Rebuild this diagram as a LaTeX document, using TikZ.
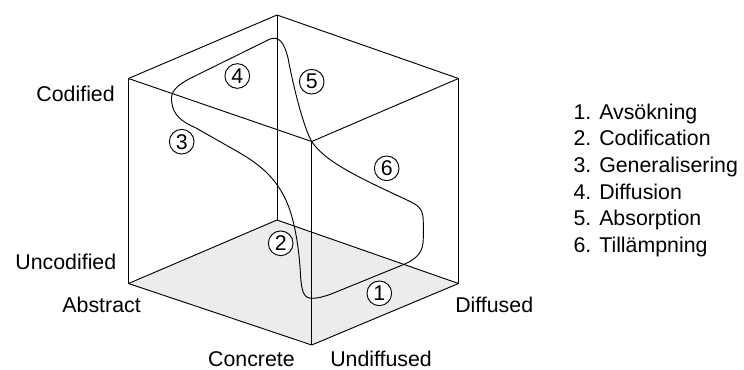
\documentclass[tikz,border=0pt]{standalone}
\usepackage{fontspec}
\setmainfont{Liberation Sans}
\usepackage{xcolor}
\usepackage{tikz}

\tikzset{
  edge/.style={line width=0.7pt},
  stage/.style={draw,circle,line width=0.7pt,fill=white,inner sep=0pt,minimum size=18.5pt},
  axislabel/.style={inner sep=0pt},
}

\begin{document}
\begin{tikzpicture}[x=0.75pt,y=-0.75pt,font=\fontsize{16}{19}\selectfont]
  \useasboundingbox (0,0) rectangle (744,369);
  % Cube corners
  \coordinate (tb) at (277,15);
  \coordinate (tl) at (128.5,78.5);
  \coordinate (tr) at (458.5,78.5);
  \coordinate (tf) at (311.7,141.5);
  \coordinate (bb) at (277,220);
  \coordinate (bl) at (128.5,283.5);
  \coordinate (br) at (458.5,283.5);
  \coordinate (bf) at (311.7,345);
  % Floor of the cube
  \fill[gray!15] (bl) -- (bb) -- (br) -- (bf) -- cycle;
  \foreach \a/\b in {tl/tb,tb/tr,tr/tf,tf/tl,bl/bb,bb/br,br/bf,bf/bl,tl/bl,tb/bb,tr/br,tf/bf}
    \draw[edge] (\a) -- (\b);
  % The learning cycle
  \draw[edge] (312,298.3) .. controls (318,298.3) and (322,297) .. (330,294.5) -- (400,266)
    .. controls (418,259) and (423.3,252) .. (423.3,238) -- (423.3,222)
    .. controls (423.3,210) and (420,206) .. (408,200.5)
    .. controls (360,178) and (325,162) .. (tf)
    .. controls (304,128) and (294,90) .. (288,58)
    .. controls (284,42) and (279,36) .. (270,39) -- (192,77.5)
    .. controls (176,85.5) and (170,92) .. (171.7,102)
    .. controls (173,115) and (182,122) .. (196,128) -- (240,153)
    .. controls (262,166) and (278,180) .. (288,205)
    .. controls (294,220) and (299,245) .. (300.5,275)
    .. controls (301.5,292) and (304,298.3) .. cycle;
  \foreach \n/\x/\y in {1/379.3/293.3,2/280.7/243.3,3/181.7/141.7,4/237.3/76,5/311.7/81.7,6/386.7/168.3}
    \node[stage] (s\n) at (\x,\y) {\n};
  % Axis labels
  \node[axislabel,anchor=base east] (codified) at (115,101) {Codified};
  \node[axislabel,anchor=base east] (uncodified) at (116.5,269) {Uncodified};
  \node[axislabel,anchor=base east] (abstract) at (141,312) {Abstract};
  \node[axislabel,anchor=base west] (diffused) at (455,312) {Diffused};
  \node[axislabel,anchor=base east] (concrete) at (295,366) {Concrete};
  \node[axislabel,anchor=base west] (undiffused) at (330,366) {Undiffused};
  % Legend
  \foreach \n/\txt in {1/Avsökning,2/Codification,3/Generalisering,4/Diffusion,5/Absorption,6/Tillämpning}
    \node[axislabel,anchor=base west] (leg\n) at (573.3,{119.3+26.67*(\n-1)}) {\n. \txt};
\end{tikzpicture}
\end{document}
